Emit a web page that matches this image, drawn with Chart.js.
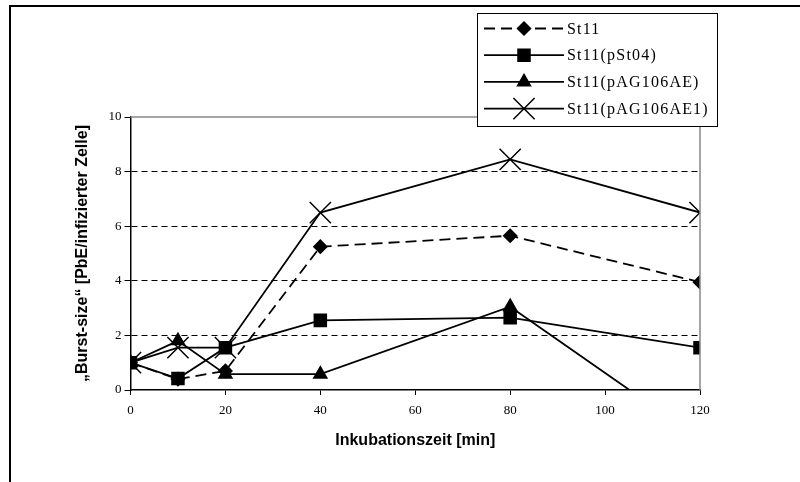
<!DOCTYPE html>
<html>
<head>
<meta charset="utf-8">
<script src="https://cdn.jsdelivr.net/npm/chart.js@4"></script>
<style>
  body { margin: 0; background: #fff; }
  #wrap { width: 800px; height: 482px; }
</style>
</head>
<body>
<div id="wrap"><canvas id="myChart" width="800" height="482"></canvas></div>
<script>
// Inkubationszeit in Minuten
var minutes = [0, 10, 20, 40, 80, 120];
var seriesNames = ["St11", "St11(pSt04)", "St11(pAG106AE)", "St11(pAG106AE1)"];
var st11 = [1.0, 0.4, 0.7, 5.25, 5.65, 3.95];
var pSt04 = [1.0, 0.42, 1.55, 2.55, 2.65, 1.55];
var pAG106AE = [1.0, 1.8, 0.58, 0.58, 3.05, -1.8];
var pAG106AE1 = [1.0, 1.55, 1.55, 6.5, 8.45, 6.5];
var yTicks = [0, 2, 4, 6, 8, 10];
var xTicks = [0, 20, 40, 60, 80, 100, 120];

function pts(values) {
  return minutes.map(function (m, i) { return { x: m, y: values[i] }; });
}

var styles = [
  { pointStyle: 'rectRot', radius: 6.5, dash: [11, 6] },
  { pointStyle: 'rect', radius: 8.5, dash: [] },
  { pointStyle: 'triangle', radius: 7.5, dash: [] },
  { pointStyle: 'crossRot', radius: 15, dash: [] }
];
var allValues = [st11, pSt04, pAG106AE, pAG106AE1];

var datasets = allValues.map(function (v, i) {
  return {
    label: seriesNames[i],
    data: pts(v),
    borderColor: '#000',
    backgroundColor: '#000',
    borderWidth: 1.8,
    borderDash: styles[i].dash,
    pointStyle: styles[i].pointStyle,
    pointRadius: styles[i].radius,
    pointBorderWidth: 1.5,
    pointBackgroundColor: '#000',
    pointBorderColor: '#000',
    tension: 0
  };
});

// frame, grey plot border and legend box
var framePlugin = {
  id: 'frame',
  beforeDraw: function (chart) {
    var ctx = chart.ctx;
    ctx.save();
    ctx.fillStyle = '#fff';
    ctx.fillRect(0, 0, chart.width, chart.height);
    ctx.strokeStyle = '#000';
    ctx.lineWidth = 2;
    ctx.beginPath();
    ctx.moveTo(10, 482);
    ctx.lineTo(10, 6);
    ctx.lineTo(800, 6);
    ctx.stroke();
    ctx.restore();
  },
  afterDatasetsDraw: function (chart) {
    var ctx = chart.ctx, a = chart.chartArea;
    ctx.save();
    ctx.strokeStyle = '#888';
    ctx.lineWidth = 1.5;
    ctx.beginPath();
    ctx.moveTo(a.left, a.top);
    ctx.lineTo(a.right, a.top);
    ctx.lineTo(a.right, a.bottom);
    ctx.stroke();

    // legend
    var bx = 477, by = 13, bw = 240, bh = 113;
    ctx.fillStyle = '#fff';
    ctx.fillRect(bx, by, bw, bh);
    ctx.strokeStyle = '#000';
    ctx.lineWidth = 1;
    ctx.strokeRect(bx + 0.5, by + 0.5, bw, bh);
    chart.data.datasets.forEach(function (ds, i) {
      var y = 28.5 + i * 26.7;
      ctx.strokeStyle = '#000';
      ctx.lineWidth = 1.8;
      ctx.setLineDash(ds.borderDash);
      ctx.beginPath();
      ctx.moveTo(484, y);
      ctx.lineTo(564, y);
      ctx.stroke();
      ctx.setLineDash([]);
      ctx.fillStyle = '#000';
      ctx.lineWidth = 1.5;
      Chart.helpers.drawPoint(ctx, {
        pointStyle: ds.pointStyle,
        radius: ds.pointRadius,
        rotation: 0,
        borderWidth: 1.5
      }, 524, y);
      ctx.fillStyle = '#000';
      ctx.font = '16px "Liberation Serif"';
      ctx.letterSpacing = '1.2px';
      ctx.textBaseline = 'middle';
      ctx.textAlign = 'left';
      ctx.fillText(ds.label, 567, y + 1);
      ctx.letterSpacing = '0px';
    });
    ctx.restore();
  }
};

new Chart(document.getElementById("myChart"), {
  type: 'line',
  data: { datasets: datasets },
  plugins: [framePlugin],
  options: {
    responsive: false,
    animation: false,
    layout: { padding: { left: 73, top: 117, right: 100, bottom: 32 } },
    plugins: { legend: { display: false }, tooltip: { enabled: false } },
    scales: {
      x: {
        type: 'linear',
        min: 0, max: 120,
        afterBuildTicks: function (s) { s.ticks = xTicks.map(function (v) { return { value: v }; }); },
        afterFit: function (s) { s.height = 60; },
        ticks: { color: '#000', padding: 8, maxRotation: 0, font: { family: 'Liberation Serif', size: 13 } },
        grid: { drawOnChartArea: false, color: '#000', tickColor: '#000', tickLength: 5, lineWidth: 1 },
        border: { color: '#000', width: 1.5 },
        title: { display: true, text: 'Inkubationszeit [min]', color: '#000', padding: 0,
                 font: { family: 'Liberation Sans', size: 16, weight: 'bold' } }
      },
      y: {
        min: 0, max: 10,
        afterBuildTicks: function (s) { s.ticks = yTicks.map(function (v) { return { value: v }; }); },
        afterFit: function (s) { s.width = 57.5; },
        ticks: { color: '#000', padding: 3, font: { family: 'Liberation Serif', size: 13 } },
        grid: {
          color: function (c) { return (c.tick && c.tick.value > 0 && c.tick.value < 10) ? '#000' : 'rgba(0,0,0,0)'; },
          tickColor: '#000', tickLength: 6, lineWidth: 1
        },
        border: { color: '#000', width: 1.5, dash: [6, 4] },
        title: { display: true, text: '„Burst-size“ [PbE/infizierter Zelle]', color: '#000', padding: 0,
                 font: { family: 'Liberation Sans', size: 16, weight: 'bold' } }
      }
    }
  }
});
</script>
</body>
</html>
